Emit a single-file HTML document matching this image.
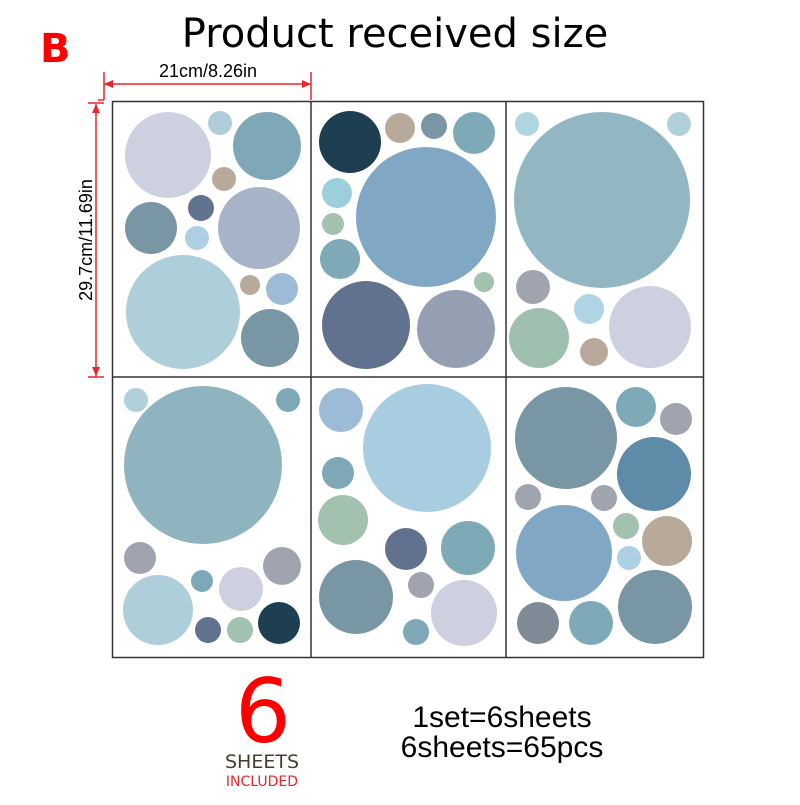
<!DOCTYPE html>
<html><head><style>
body{margin:0;background:#fff;width:800px;height:800px;overflow:hidden}
</style></head><body>
<svg width="800" height="800" viewBox="0 0 800 800" xmlns="http://www.w3.org/2000/svg" font-family="Liberation Sans, sans-serif">
<rect width="800" height="800" fill="#fff"/>
<text x="395" y="47" font-size="40" text-anchor="middle" font-family="DejaVu Sans, sans-serif" fill="#000">Product received size</text>
<text x="40" y="62" font-size="40" font-weight="bold" fill="#f00" font-family="DejaVu Sans, sans-serif">B</text>
<g stroke="#e8262b" stroke-width="1.5" fill="none">
<line x1="104" y1="84" x2="311" y2="84"/><line x1="104" y1="72" x2="104" y2="100"/><line x1="311" y1="72" x2="311" y2="100"/>
<line x1="96" y1="104" x2="96" y2="377"/><line x1="88" y1="103" x2="104" y2="103"/><line x1="88" y1="377" x2="104" y2="377"/>
<line x1="98" y1="100" x2="104" y2="100"/>
</g>
<g fill="#e8262b"><polygon points="104,84 113,80 113,88"/><polygon points="311,84 302,80 302,88"/>
<polygon points="96,104 92,113 100,113"/><polygon points="96,376 92,367 100,367"/></g>
<text x="208" y="77" font-size="18" text-anchor="middle">21cm/8.26in</text>
<text transform="translate(92,240) rotate(-90)" font-size="18" text-anchor="middle">29.7cm/11.69in</text>
<g>
<circle cx="168" cy="155" r="43" fill="#cdd1df"/><circle cx="220" cy="123" r="12" fill="#afcdd8"/><circle cx="267" cy="146" r="34" fill="#7ea8b8"/>
<circle cx="224" cy="179" r="12" fill="#b8aa9a"/><circle cx="201" cy="208" r="13" fill="#607490"/><circle cx="259" cy="228" r="41" fill="#a7b4c8"/>
<circle cx="151" cy="228" r="26" fill="#7896a4"/><circle cx="197" cy="238" r="12" fill="#add0e4"/><circle cx="183" cy="312" r="57" fill="#aecfd9"/>
<circle cx="250" cy="285" r="10" fill="#b8aa9a"/><circle cx="282" cy="289" r="16" fill="#9dbbd6"/><circle cx="270" cy="338" r="29" fill="#7896a4"/>

<circle cx="350" cy="142" r="31" fill="#1e3f52"/><circle cx="400" cy="128" r="15" fill="#b8aa9a"/><circle cx="434" cy="126" r="13" fill="#7896a4"/>
<circle cx="474" cy="133" r="21" fill="#7eaab8"/><circle cx="426" cy="217" r="70" fill="#80a8c4"/><circle cx="337" cy="193" r="15" fill="#9ccfdc"/>
<circle cx="333" cy="224" r="11" fill="#a3c1af"/><circle cx="340" cy="259" r="20" fill="#7eaab8"/><circle cx="484" cy="282" r="10" fill="#a3c1af"/>
<circle cx="366" cy="325" r="44" fill="#60728e"/><circle cx="456" cy="329" r="39" fill="#959fb2"/>

<circle cx="527" cy="124" r="12" fill="#b0d4e0"/><circle cx="602" cy="200" r="88" fill="#92b6c2"/><circle cx="679" cy="124" r="12" fill="#b0d0da"/>
<circle cx="533" cy="287" r="17" fill="#a0a4ae"/><circle cx="589" cy="309" r="15" fill="#b0d4e4"/><circle cx="539" cy="338" r="30" fill="#9fbfae"/>
<circle cx="594" cy="352" r="14" fill="#b8aa9a"/><circle cx="650" cy="327" r="41" fill="#cdd1df"/>

<circle cx="136" cy="400" r="12" fill="#b0d0da"/><circle cx="203" cy="465" r="79" fill="#8fb4bf"/><circle cx="288" cy="400" r="12" fill="#7ea8b8"/>
<circle cx="140" cy="558" r="16" fill="#a0a4ae"/><circle cx="202" cy="581" r="11" fill="#7ea8b8"/><circle cx="241" cy="589" r="22" fill="#cdd1df"/>
<circle cx="282" cy="566" r="19" fill="#a0a4ae"/><circle cx="158" cy="610" r="35" fill="#aecfd9"/><circle cx="208" cy="630" r="13" fill="#60728e"/>
<circle cx="240" cy="630" r="13" fill="#a3c1af"/><circle cx="279" cy="623" r="21" fill="#1e3f52"/>

<circle cx="341" cy="410" r="22" fill="#9dbbd6"/><circle cx="427" cy="448" r="64" fill="#a8cce0"/><circle cx="338" cy="473" r="16" fill="#7ea8b8"/>
<circle cx="343" cy="520" r="25" fill="#a3c1af"/><circle cx="406" cy="549" r="21" fill="#60728e"/><circle cx="468" cy="548" r="27" fill="#7eaab8"/>
<circle cx="421" cy="585" r="13" fill="#a0a4ae"/><circle cx="356" cy="597" r="37" fill="#7896a4"/><circle cx="464" cy="613" r="33" fill="#cdd1df"/>
<circle cx="416" cy="632" r="13" fill="#7ea8b8"/>

<circle cx="566" cy="438" r="51" fill="#7896a4"/><circle cx="636" cy="407" r="20" fill="#7eaab8"/><circle cx="676" cy="419" r="16" fill="#a0a4ae"/>
<circle cx="654" cy="474" r="37" fill="#5e8ca8"/><circle cx="528" cy="497" r="13" fill="#a0a4ae"/><circle cx="604" cy="498" r="13" fill="#a0a4ae"/>
<circle cx="626" cy="526" r="13" fill="#a3c1af"/><circle cx="667" cy="541" r="25" fill="#b8aa9a"/><circle cx="629" cy="558" r="12" fill="#add0e4"/>
<circle cx="564" cy="553" r="48" fill="#80a8c4"/><circle cx="538" cy="623" r="21" fill="#7f8a96"/><circle cx="591" cy="623" r="22" fill="#7eaab8"/>
<circle cx="655" cy="607" r="37" fill="#7896a4"/>
</g>
<g stroke="#333" stroke-width="1.5" fill="none">
<rect x="112.5" y="101.5" width="591" height="556"/>
<line x1="311" y1="101" x2="311" y2="657"/><line x1="506" y1="101" x2="506" y2="657"/>
<line x1="112" y1="377" x2="704" y2="377"/>
</g>
<text x="263" y="742" font-size="88" fill="#f00" text-anchor="middle" font-family="DejaVu Sans, sans-serif">6</text>
<text x="262" y="768" font-size="19" fill="#4a3b2f" text-anchor="middle" font-family="DejaVu Sans, sans-serif">SHEETS</text>
<text x="262" y="786" font-size="14" fill="#e8262b" text-anchor="middle" font-family="DejaVu Sans, sans-serif">INCLUDED</text>
<text x="502" y="727" font-size="30" text-anchor="middle">1set=6sheets</text>
<text x="502" y="757" font-size="30" text-anchor="middle">6sheets=65pcs</text>
</svg>
</body></html>
